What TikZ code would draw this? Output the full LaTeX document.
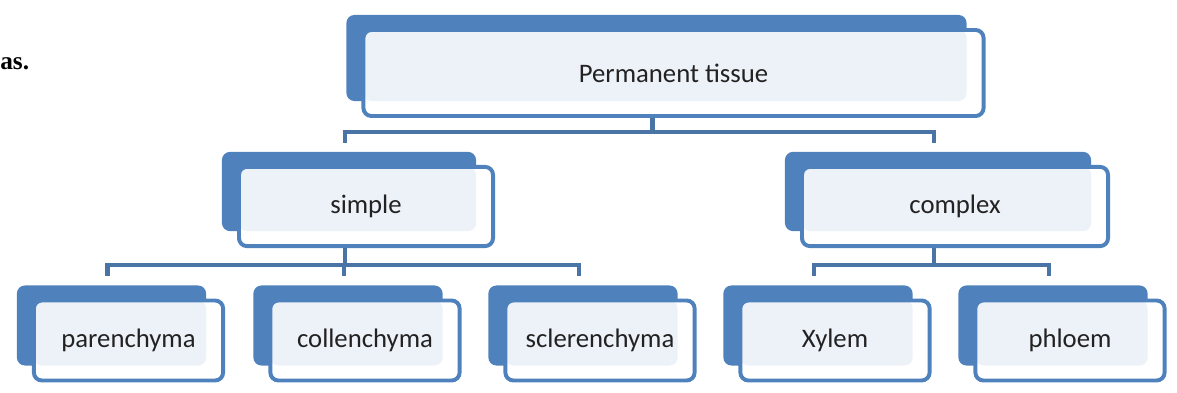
\documentclass[tikz,border=0pt]{standalone}
\usepackage{fontspec}
\setmainfont{Carlito}
\newfontfamily\pageserif{Liberation Serif}
\usetikzlibrary{shadows}

\definecolor{boxblue}{HTML}{4F81BD}
\definecolor{boxlight}{HTML}{EDF1F8}
\definecolor{linkblue}{HTML}{4A74A6}
\definecolor{labelgray}{HTML}{222222}

\def\dx{0.425cm}
\def\dy{0.375cm}
\def\hx{0.525cm}
\def\gy{0.56cm}

\tikzset{
  tissue/.style={rectangle, draw=boxblue, line width=2.8pt, fill=white,
    rounded corners=0.2cm, text=labelgray,
    font=\fontsize{19}{22}\selectfont,
    general shadow={shadow xshift=-\dx, shadow yshift=\dy, fill=boxblue},
    path picture={\fill[boxlight] (path picture bounding box.north west)
      rectangle ([xshift=-\dx, yshift=\dy]path picture bounding box.south east);}},
  link/.style={draw=linkblue, line width=3.4pt}
}

\begin{document}
\begin{tikzpicture}[x=0.025cm, y=-0.025cm]
\useasboundingbox (0,0) rectangle (1177,393);

\node[anchor=base west, inner sep=0pt, font=\pageserif\bfseries\fontsize{18}{20}\selectfont] (as) at (0,70) {as.};

\node[tissue, minimum width=15.5cm, minimum height=2.15cm] (perm) at (673.5,73) {Permanent tissue};

\node[tissue, minimum width=6.35cm, minimum height=1.98cm] (simple) at (366,206.5) {simple};
\node[tissue, minimum width=7.65cm, minimum height=1.98cm] (complex) at (955,206.5) {complex};

\node[tissue, minimum width=4.73cm, minimum height=2cm] (paren) at (128.5,340.5) {parenchyma};
\node[tissue, minimum width=4.73cm, minimum height=2cm] (collen) at (365,340.5) {collenchyma};
\node[tissue, minimum width=4.73cm, minimum height=2cm] (scler) at (600,340.5) {sclerenchyma};
\node[tissue, minimum width=4.73cm, minimum height=2cm] (xylem) at (835,340.5) {Xylem};
\node[tissue, minimum width=4.73cm, minimum height=2cm] (phloem) at (1070,340.5) {phloem};

% connector end points
\coordinate (bus1) at (0,132);
\coordinate (bus2) at (0,265);
\coordinate (perm-b) at ([xshift=-\hx]perm.south);
\coordinate (simple-b) at ([xshift=-\hx]simple.south);
\coordinate (complex-b) at ([xshift=-\hx]complex.south);
\foreach \n in {simple,complex,paren,collen,scler,xylem,phloem}
  \coordinate (\n-t) at ([xshift=-\hx, yshift=\gy]\n.north);

% level one
\draw[link] (perm-b) -- (perm-b |- bus1);
\draw[link] (simple-t) |- (bus1 -| complex-t) -- (complex-t);

% level two
\draw[link] (simple-b) -- (simple-b |- bus2);
\draw[link] (paren-t) |- (bus2 -| scler-t) -- (scler-t);
\draw[link] (collen-t) -- (collen-t |- bus2);
\draw[link] (complex-b) -- (complex-b |- bus2);
\draw[link] (xylem-t) |- (bus2 -| phloem-t) -- (phloem-t);

\end{tikzpicture}
\end{document}
